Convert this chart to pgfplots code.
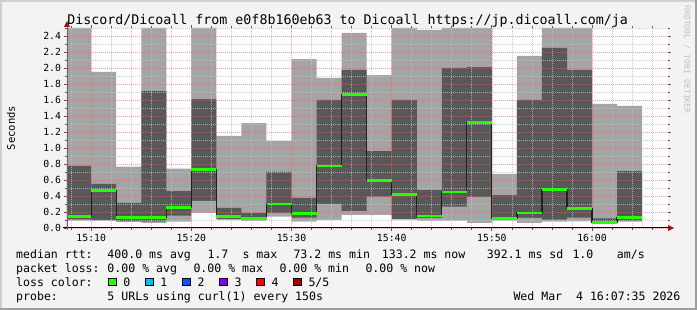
\documentclass[border=0pt]{standalone}
\usepackage{fontspec}
\usepackage{pgfplots}
\usepackage{pgfplotstable}
\pgfplotsset{compat=1.18}
\newfontfamily\dvm{DejaVu Sans Mono}
\definecolor{bgc}{HTML}{F3F3F3}
\definecolor{shadea}{HTML}{CFCFCF}
\definecolor{shadeb}{HTML}{9E9E9E}
\definecolor{smokeA}{HTML}{A4A4A4}
\definecolor{smokeB}{HTML}{585858}
\definecolor{medblack}{HTML}{202020}
\definecolor{l0}{HTML}{26FF00}
\definecolor{l1}{HTML}{00B8FF}
\definecolor{l2}{HTML}{0059FF}
\definecolor{l3}{HTML}{7E00FF}
\definecolor{l4}{HTML}{FF0000}
\definecolor{l5}{HTML}{A10000}
\definecolor{gridc}{HTML}{C0C0C0}
\definecolor{mgridc}{HTML}{FF6060}
\definecolor{arrowc}{HTML}{A01010}
\definecolor{wmark}{HTML}{C0C0C0}

\pgfplotstableread{
t lo q1 med q3 hi
7.5  0.092 0.108 0.142 0.775 2.5
10   0.090 0.100 0.467 0.550 1.950
12.5 0.075 0.083 0.129 0.313 0.767
15   0.062 0.083 0.129 1.710 2.5
17.5 0.079 0.154 0.254 0.462 0.742
20   0.190 0.338 0.729 1.610 2.5
22.5 0.100 0.112 0.142 0.250 1.150
25   0.088 0.108 0.121 0.188 1.312
27.5 0.142 0.190 0.300 0.700 1.088
30   0.079 0.129 0.179 0.375 2.112
32.5 0.100 0.300 0.775 1.600 1.875
35   0.162 0.212 1.667 1.975 2.438
37.5 0.162 0.392 0.592 0.962 1.912
40   0.105 0.112 0.417 1.600 2.5
42.5 0.092 0.125 0.150 0.475 2.475
45   0.092 0.267 0.450 2.000 2.5
47.5 0.062 0.388 1.317 2.012 2.5
50   0.092 0.100 0.117 0.412 0.675
52.5 0.062 0.125 0.188 1.600 2.150
55   0.079 0.104 0.479 2.250 2.5
57.5 0.083 0.129 0.242 1.975 2.5
60   0.058 0.062 0.067 0.121 1.550
62.5 0.080 0.092 0.129 0.712 1.525
65   0.080 0.092 0.129 0.712 1.525
}\smoke

\pgfplotsset{
  samegeom/.style={
    at={(67bp,82bp)}, anchor=south west,
    scale only axis, width=601bp, height=200bp,
    xmin=7.58333, xmax=67.58333, ymin=0, ymax=2.5,
  },
}

\begin{document}
\begin{tikzpicture}
\fill[bgc] (0,0) rectangle (697bp,310bp);
\draw[shadea, line width=2bp] (1bp,0bp) -- (1bp,309bp) -- (697bp,309bp);
\draw[shadeb, line width=2bp] (0bp,1bp) -- (696bp,1bp) -- (696bp,310bp);

\begin{axis}[
  samegeom,
  axis background/.style={fill=white},
  axis line style={draw=none},
  axis on top,
  xtick={10,20,30,40,50,60},
  xticklabels={15:10,15:20,15:30,15:40,15:50,16:00},
  minor xtick={8,12,14,16,18,22,24,26,28,32,34,36,38,42,44,46,48,52,54,56,58,62,64,66},
  ytick={0,0.2,0.4,0.6,0.8,1.0,1.2,1.4,1.6,1.8,2.0,2.2,2.4},
  minor ytick={0.1,0.3,0.5,0.7,0.9,1.1,1.3,1.5,1.7,1.9,2.1,2.3,2.5},
  grid=both,
  major grid style={draw=mgridc, draw opacity=0.6, dash pattern=on 1bp off 1bp, line width=0.7bp},
  minor grid style={draw=gridc, draw opacity=0.8, dash pattern=on 1bp off 1bp, line width=0.7bp},
  tick align=outside,
  major tick length=2.5bp, minor tick length=2bp,
  every tick/.style={black!65, line width=0.8bp},
  /pgf/number format/assume math mode=true,
  yticklabel style={font=\dvm\fontsize{9.8bp}{11bp}\selectfont, /pgf/number format/fixed, /pgf/number format/fixed zerofill, /pgf/number format/precision=1},
  xticklabel style={font=\dvm\fontsize{9.8bp}{11bp}\selectfont},
]
% smoke: max area light, q3 area dark, q1 area light, min area white
\addplot[const plot, fill=smokeA, draw=none] table[x=t,y=hi]{\smoke} \closedcycle;
\addplot[const plot, fill=smokeB, draw=none] table[x=t,y=q3]{\smoke} \closedcycle;
\addplot[const plot, fill=smokeA, draw=none] table[x=t,y=q1]{\smoke} \closedcycle;
\addplot[const plot, fill=white, draw=none] table[x=t,y=lo]{\smoke} \closedcycle;
\end{axis}

% median line drawn over the grid
\begin{axis}[samegeom, hide axis]
\addplot[const plot, color=medblack, line width=1.2bp] table[x=t,y=med]{\smoke};
\addplot[jump mark left, color=l0, line width=2.4bp] table[x=t,y=med]{\smoke};
\end{axis}

\begin{scope}[x=1bp,y=1bp]
% axes lines and arrows
\draw[black, line width=1bp] (63,82) -- (668,82);
\fill[arrowc] (668,79) -- (674,82) -- (668,85) -- cycle;
\draw[black!60, line width=1bp] (67,80) -- (67,283);
\fill[arrowc] (64,283) -- (67,289) -- (70,283) -- cycle;

% title
\node[anchor=base, inner sep=0pt, font=\dvm\fontsize{13.3bp}{15bp}\selectfont] at (347.6,285.9) {Discord/Dicoall from e0f8b160eb63 to Dicoall https://jp.dicoall.com/ja};
% y label
\node[rotate=90, inner sep=0pt, font=\dvm\fontsize{10.5bp}{12bp}\selectfont] at (11,182) {Seconds};
% watermark
\node[rotate=-90, inner sep=0pt, text=wmark, font=\dvm\fontsize{8.2bp}{9bp}\selectfont] at (687,250.5) {RRDTOOL / TOBI OETIKER};

% legend
\begin{scope}[every node/.style={anchor=base west, inner sep=0pt, font=\dvm\fontsize{11.55bp}{13bp}\selectfont}]
\node at (16,51.7) {median rtt:};
\node at (107.3,51.7) {400.0 ms avg};
\node at (207.3,51.7) {1.7};
\node at (242.3,51.7) {s max};
\node at (293.3,51.7) {73.2 ms min};
\node at (381.7,51.7) {133.2 ms now};
\node at (486.7,51.7) {392.1 ms sd};
\node at (572.3,51.7) {1.0};
\node at (616.7,51.7) {am/s};

\node at (16,37.7) {packet loss:};
\node at (107.3,37.7) {0.00 \% avg};
\node at (193.3,37.7) {0.00 \% max};
\node at (279.3,37.7) {0.00 \% min};
\node at (365.3,37.7) {0.00 \% now};

\node at (16,23.7) {loss color:};
\node at (123.3,23.7) {0};
\node at (160.3,23.7) {1};
\node at (197.3,23.7) {2};
\node at (234.3,23.7) {3};
\node at (271.3,23.7) {4};
\node at (308.3,23.7) {5/5};

\node at (16,9.7) {probe:};
\node at (107.3,9.7) {5 URLs using curl(1) every 150s};
\node at (513.3,9.7) {Wed Mar};
\node at (575.9,9.7) {4 16:07:35 2026};
\end{scope}
\foreach \xx/\cc in {108.7/l0,145.7/l1,182.7/l2,219.7/l3,256.7/l4,293.7/l5}{
  \filldraw[fill=\cc, draw=black, line width=0.8bp] (\xx,24.1) rectangle ++(7.4,7.4);
}
\end{scope}
\pgfresetboundingbox
\useasboundingbox (0,0) rectangle (697bp,310bp);
\end{tikzpicture}
\end{document}
